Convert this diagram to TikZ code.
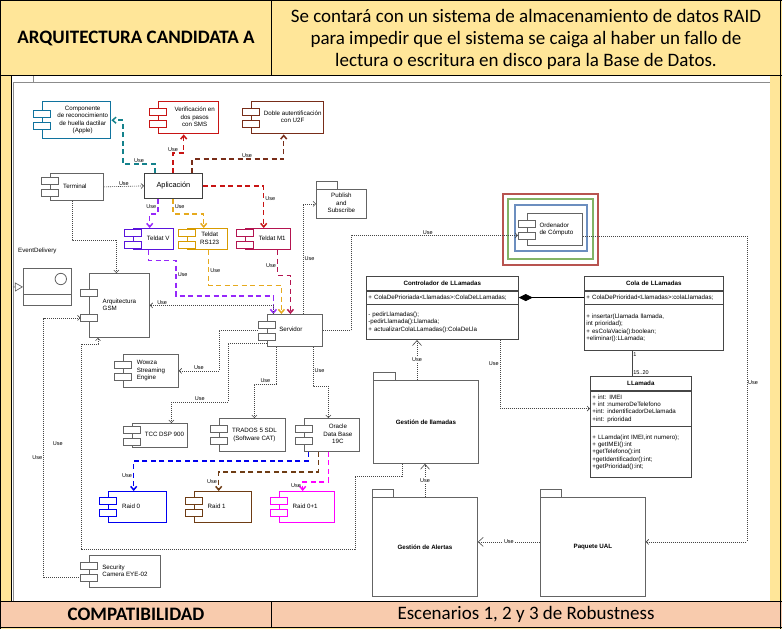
\documentclass[tikz,border=0pt]{standalone}
\usepackage{fontspec}
\setmainfont{Carlito}
\newfontfamily\dgfont{Liberation Sans}
\usetikzlibrary{arrows.meta, positioning}
\definecolor{HdYellow}{RGB}{255,230,153}
\definecolor{HdPeach}{RGB}{248,203,173}
\definecolor{DgGray}{RGB}{100,100,100}
\definecolor{DgLine}{RGB}{70,70,70}
\definecolor{DgTeal}{RGB}{16,115,158}
\definecolor{DgTealLn}{RGB}{20,130,140}
\definecolor{DgRed}{RGB}{200,20,20}
\definecolor{DgBrown}{RGB}{120,45,25}
\definecolor{DgPurple}{RGB}{90,20,220}
\definecolor{DgViolet}{RGB}{150,40,250}
\definecolor{DgOrange}{RGB}{215,155,0}
\definecolor{DgOrangeLn}{RGB}{230,170,30}
\definecolor{DgCrimson}{RGB}{180,20,80}
\definecolor{DgBlue}{RGB}{0,0,240}
\definecolor{DgRaidBrown}{RGB}{110,60,20}
\definecolor{DgMagenta}{RGB}{255,0,255}
\definecolor{DgRedBox}{RGB}{184,84,80}
\definecolor{DgGreenBox}{RGB}{130,179,102}
\definecolor{DgBlueBox}{RGB}{108,142,191}

% two plug rectangles on the left edge of a component
\newcommand{\plugs}[3][6]{%
  \foreach \dy in {#1,-#1}{%
    \draw[#3] ([shift={(-8.5pt,{(\dy+3.5)*1pt})}]#2.west) rectangle ++(17pt,-7pt);}}
% tab of a package
\newcommand{\pkgtab}[2][21]{\draw[pkgline] (#2.north west) rectangle ++(#1pt,8pt);}
% text block, pushed sideways
\newcommand{\ctxt}[3][c]{\hspace*{#2}\begin{tabular}{@{}#1@{}}#3\end{tabular}}

\begin{document}
\begin{tikzpicture}[x=1pt, y=-1pt,
    comp/.style={draw=DgGray, line width=0.8pt, fill=white, anchor=north west,
                 inner sep=0pt, font=\dgfont\fontsize{6.2}{7.4}\selectfont},
    ccomp/.style={comp, draw=#1, line width=1.4pt},
    plug/.style={draw=DgGray, line width=0.7pt, fill=white},
    cplug/.style={draw=#1, line width=1.3pt, fill=white},
    pkg/.style={draw=DgGray, line width=0.8pt, fill=white, anchor=north west,
                inner sep=0pt, font=\dgfont\bfseries\fontsize{6.2}{7.4}\selectfont},
    pkgline/.style={draw=DgGray, line width=0.8pt, fill=white},
    clstitle/.style={draw=DgLine, fill=white, line width=0.7pt, inner xsep=2pt,
                     inner ysep=0pt, text width=#1, minimum height=14pt, align=center,
                     font=\dgfont\bfseries\fontsize{6.2}{7.4}\selectfont},
    clsbody/.style={draw=DgLine, fill=white, line width=0.7pt, inner xsep=2pt,
                    inner ysep=0pt, text width=#1, align=left,
                    font=\dgfont\fontsize{6.2}{7.4}\selectfont},
    dep/.style={draw=DgLine, line width=0.6pt, dash pattern=on 1pt off 1pt,
                -{Straight Barb[length=2.5pt,width=5pt]}},
    depbig/.style={dep, -{Straight Barb[length=5pt,width=9pt]}},
    cdep/.style={draw=#1, line width=1.5pt, dash pattern=on 5pt off 3.5pt,
                 -{Straight Barb[length=3.5pt,width=6pt]}},
    gen/.style={draw=DgGray, line width=0.7pt, -{Triangle[open,length=8pt,width=9pt]}},
    compo/.style={{Diamond[length=14pt,width=7pt]}-, draw=black, line width=0.7pt},
    lbl/.style={font=\dgfont\fontsize{5.5}{6.5}\selectfont, inner sep=1pt},
    hdtext/.style={font=\fontsize{19}{22}\selectfont, align=center}
  ]
  \useasboundingbox (0,0) rectangle (782,629);

  % table
  \fill[HdYellow] (0,0) rectangle (782,629);
  \fill[HdPeach] (0,601) rectangle (782,627);
  \fill[white] (11,76) rectangle (770,601);
  \draw[black, line width=1pt] (0,0.5) -- (782,0.5) (0.5,0) -- (0.5,629)
    (780.5,0) -- (780.5,629) (0,75.5) -- (782,75.5) (271,0) -- (271,75.5)
    (0,601) -- (782,601) (0,627) -- (782,627) (271,601) -- (271,627)
    (11,75.5) -- (11,601);
  \draw[black!45, line width=0.5pt] (13,601) |- (770,82) (33,76) -- (33,82);

  \node[hdtext, font=\bfseries\fontsize{19}{22}\selectfont] (arq) at (136,38)
       {ARQUITECTURA CANDIDATA A};
  \node[hdtext] (raidtxt) at (526,39)
       {Se contará con un sistema de almacenamiento de datos RAID\\
        para impedir que el sistema se caiga al haber un fallo de\\
        lectura o escritura en disco para la Base de Datos.};
  \node[hdtext, font=\bfseries\fontsize{19}{22}\selectfont] (compat) at (136,614)
       {COMPATIBILIDAD};
  \node[hdtext] (esc) at (526,614) {Escenarios 1, 2 y 3 de Robustness};

  % Ordenador frames
  \draw[DgRedBox, line width=1.6pt] (503,194) rectangle (598,265);
  \draw[DgGreenBox, line width=1.6pt] (508,199) rectangle (593,259);
  \draw[DgBlueBox, line width=1.4pt] (515,205) rectangle (587,251);

  % components
  \node[ccomp=DgTeal, minimum width=68pt, minimum height=37pt] (comp) at (42,101)
       {\ctxt{12pt}{Componente\\de reconocimiento\\de huella dactilar\\(Apple)}};
  \node[ccomp=DgRed, minimum width=60pt, minimum height=32pt] (sms) at (158,101)
       {\ctxt{12pt}{Verificación en\\dos pasos\\con SMS}};
  \node[ccomp=DgBrown, minimum width=72pt, minimum height=32pt] (u2f) at (251,101)
       {\ctxt{10pt}{Doble autentificación\\con U2F}};
  \node[comp, minimum width=53pt, minimum height=27pt] (term) at (50,173)
       {\ctxt{-4pt}{Terminal}};
  \node[comp, draw=black!75, font=\dgfont\fontsize{7.4}{8.6}\selectfont,
        minimum width=58pt, minimum height=25pt] (app) at (144,173) {Aplicación};
  \node[ccomp=DgPurple, minimum width=40pt, minimum height=21pt] (tv) at (133,228)
       {\ctxt{9pt}{Teldat V}};
  \node[ccomp=DgOrange, minimum width=40pt, minimum height=21pt] (trs) at (187,228)
       {\ctxt{4pt}{Teldat\\RS123}};
  \node[ccomp=DgCrimson, minimum width=45pt, minimum height=21pt] (tm1) at (245,228)
       {\ctxt{8pt}{Teldat M1}};
  \node[pkg, font=\dgfont\fontsize{6.2}{7.4}\selectfont, minimum width=50pt,
        minimum height=29pt] (pubsub) at (316,189) {\ctxt{0pt}{Publish\\and\\Subscribe}};
  \pkgtab{pubsub}

  % EventDelivery
  \node[lbl, anchor=west, font=\dgfont\fontsize{6.2}{7.4}\selectfont] (evdlbl) at (17,251)
       {EventDelivery};
  \node[comp, minimum width=48pt, minimum height=37pt] (evd) at (23,268) {};
  \draw[DgGray, line width=0.8pt] ([yshift=11pt]evd.south west) -- ([yshift=11pt]evd.south east);
  \draw[DgGray, line width=0.8pt] ([shift={(-11pt,-11pt)}]evd.north east) circle (5.7pt);
  \coordinate (evdsrc) at (13,287);

  \node[comp, minimum width=60pt, minimum height=64pt] (gsm) at (89,273)
       {\ctxt[l]{0pt}{Arquitectura\\GSM}};
  \node[comp, minimum width=55pt, minimum height=32pt] (srv) at (267,314)
       {\ctxt{-8pt}{Servidor}};
  \node[comp, minimum width=55pt, minimum height=33pt] (wowza) at (123,354)
       {\ctxt[l]{0pt}{Wowza\\Streaming\\Engine}};
  \node[comp, minimum width=55pt, minimum height=24pt] (tcc) at (132,423)
       {\ctxt{9pt}{TCC DSP 900}};
  \node[comp, minimum width=66pt, minimum height=33pt] (trados) at (219,418)
       {\ctxt{4pt}{TRADOS 5 SDL\\(Software CAT)}};
  \node[comp, minimum width=55pt, minimum height=33pt] (oracle) at (304,418)
       {\ctxt{12pt}{Oracle\\Data Base\\19C}};
  \node[ccomp=DgBlue, minimum width=58pt, minimum height=31pt] (raid0) at (108,491)
       {\ctxt{-13pt}{Raid 0}};
  \node[ccomp=DgRaidBrown, minimum width=57pt, minimum height=31pt] (raid1) at (194,491)
       {\ctxt{-13pt}{Raid 1}};
  \node[ccomp=DgMagenta, minimum width=55pt, minimum height=31pt] (raid01) at (279,491)
       {\ctxt{-4pt}{Raid 0+1}};
  \node[comp, minimum width=71pt, minimum height=32pt] (cam) at (89,555)
       {\ctxt[l]{0pt}{Security\\Camera EYE-02}};
  \node[comp, minimum width=55pt, minimum height=32pt] (ord) at (527,213)
       {\ctxt[l]{3pt}{Ordenador\\de Cómputo}};

  % packages
  \node[pkg, minimum width=105pt, minimum height=83pt] (gll) at (373,380) {Gestión de llamadas};
  \pkgtab[22]{gll}
  \node[pkg, minimum width=105pt, minimum height=99pt] (gal) at (372,497) {Gestión de Alertas};
  \pkgtab{gal}
  \node[pkg, minimum width=105pt, minimum height=99pt] (ual) at (540,497) {Paquete UAL};
  \pkgtab{ual}

  % classes
  \node[clstitle=148pt, anchor=north west] (ctl) at (366,276) {Controlador de LLamadas};
  \node[clsbody=148pt, minimum height=13pt, below=0pt of ctl] (ctla)
       {+ ColaDePrioriada<Llamadas>:ColaDeLLamadas;};
  \node[clsbody=148pt, minimum height=35pt, below=0pt of ctla] (ctlm)
       {- pedirLlamadas();\\-pedirLlamada():Llamada;\\+ actualizarColaLLamadas():ColaDeLla};
  \node[clstitle=135pt, anchor=north west] (col) at (584,276) {Cola de LLamadas};
  \node[clsbody=135pt, minimum height=13pt, below=0pt of col] (cola)
       {+ ColaDePrioridad<Llamadas>:colaLlamadas;};
  \node[clsbody=135pt, minimum height=46pt, below=0pt of cola] (colm)
       {+ insertar(Llamada llamada,\\int prioridad);\\+ esColaVacia():boolean;\\+eliminar():LLamada;};
  \node[clstitle=97pt, anchor=north west] (llm) at (590,376) {LLamada};
  \node[clsbody=97pt, minimum height=35pt, below=0pt of llm] (llma)
       {+ int: IMEI\\+ int :numeroDeTelefono\\+int: indentificadorDeLlamada\\+int: prioridad};
  \node[clsbody=97pt, minimum height=51pt, below=0pt of llma] (llmm)
       {+ LLamda(int IMEI,int numero);\\+ getIMEI():int\\+getTelefono():int\\+getIdentificador():int;\\+getPrioridad():int;};

  \draw[compo] (ctla.east) -- (cola.west);
  \draw[draw=DgLine, line width=0.7pt] ([xshift=48pt]colm.south west)
       -- ([xshift=48pt]colm.south west |- llm.north)
       node[lbl, pos=0, anchor=north west] {1}
       node[lbl, pos=1, anchor=south west] {15..20};

  % Aplicacion uses
  \draw[cdep=DgTealLn] ([xshift=11pt]app.north west) |- (123,164)
       node[lbl, pos=0.75, above] {Use} |- (comp.east);
  \draw[cdep=DgRed] ([xshift=29pt]app.north west) -- ++(0,-20)
       node[lbl, pos=1, above] {Use} -| ([xshift=-5pt]sms.south);
  \draw[cdep=DgBrown] ([xshift=48pt]app.north west) -- ++(0,-14)
       -| ([xshift=-4pt]u2f.south) node[lbl, pos=0.3, above] {Use};
  \draw[cdep=DgRed] (app.east) -| ([xshift=-4.5pt]tm1.north)
       node[lbl, pos=0.65, right] {Use};
  \draw[cdep=DgViolet] ([xshift=14pt]app.south west) -- ++(0,15)
       node[lbl, pos=0.5, left] {Use} -| ([xshift=-4pt]tv.north);
  \draw[cdep=DgOrangeLn] ([xshift=29pt]app.south west) -- ++(0,15)
       node[lbl, pos=0.5, right] {Use} -| ([xshift=-4pt]trs.north);
  \draw[dep] (term.east) -- (app.west) node[lbl, midway, above] {Use};
  \draw[dep] ([xshift=22pt]term.south west) -- ++(0,39) -| ([xshift=-3pt]gsm.north);

  % Teldat to Servidor
  \draw[cdep=DgViolet] ([xshift=-5pt]tv.south) -- ++(0,10) -| (176,296)
       node[lbl, pos=0.7, right] {Use} -| ([xshift=-21.5pt]srv.north);
  \draw[cdep=DgOrangeLn] ([xshift=1pt]trs.south) -- ++(0,35)
       node[lbl, pos=0.57, right] {Use} -| ([xshift=-13.5pt]srv.north);
  \draw[cdep=DgCrimson] ([xshift=9.5pt]tm1.south) -- ++(0,25)
       node[lbl, pos=0.6, left] {Use} -| ([xshift=-4.5pt]srv.north);

  % Servidor uses
  \draw[dep] ([xshift=-21.5pt]srv.north) |- (gsm.east) node[lbl, pos=0.95, above] {Use};
  \draw[dep] ([xshift=-9pt]srv.west) -- ++(-39,0) |- (wowza.east)
       node[lbl, pos=0.75, above] {Use};
  \draw[dep] ([yshift=-13pt]srv.west) -| (228,402) -| ([xshift=11.5pt]tcc.north)
       node[lbl, pos=0.25, above] {Use};
  \draw[dep] ([xshift=-18.5pt]srv.south) -- ++(0,37) -| ([xshift=2pt]trados.north)
       node[lbl, pos=0.25, above] {Use};
  \draw[dep] ([xshift=18.5pt]srv.south) -- ++(0,39)
       node[lbl, pos=0.6, right] {Use} -| ([xshift=-3.5pt]oracle.north);
  \draw[dep] ([xshift=8.5pt]srv.north) |- (pubsub.west) node[lbl, pos=0.25, right] {Use};
  \draw[dep] (srv.east) -- ++(28,0) |- ([shift={(-9pt,-6pt)}]ord.west)
       node[lbl, pos=0.73, above] {Use};
  \draw[dep] ([yshift=-7pt]ord.east) -- ++(164,0) |- ([yshift=5pt]ual.east)
       node[lbl, pos=0.24, right] {Use};

  % Oracle to the RAIDs
  \draw[cdep=DgBlue] ([xshift=-23.5pt]oracle.south) -- ++(0,9)
       -| ([xshift=-4pt]raid0.north) node[lbl, pos=0.75, left] {Use};
  \draw[cdep=DgRaidBrown] ([xshift=-13.5pt]oracle.south) -- ++(0,20)
       -| ([xshift=-4.5pt]raid1.north) node[lbl, pos=0.75, left] {Use};
  \draw[cdep=DgMagenta] ([xshift=-3.5pt]oracle.south) -- ++(0,30)
       -| ([xshift=-4.5pt]raid01.north) node[lbl, pos=0.7, left] {Use};

  % left side
  \draw[gen] (evdsrc) -- (evd.west);
  \draw[dep] ([shift={(-8.5pt,-6pt)}]cam.west) -- ++(-37,0)
       |- ([shift={(-8.5pt,-12.5pt)}]gsm.west) node[lbl, pos=0.23, left] {Use};
  \draw[dep] ([xshift=29pt]gll.south west) |- (355,476) |- (81,549)
       |- (98,344) node[lbl, pos=0.256, left=17pt] {Use} -- ([xshift=9pt]gsm.south west);

  % packages and classes
  \draw[dep] ([xshift=134pt]ctlm.south west) |- (llma.west)
       node[lbl, pos=0.17, left] {Use};
  \draw[depbig] ([xshift=44pt]gll.north west) -- ([xshift=44pt]gll.north west |- ctlm.south)
       node[lbl, fill=white, pos=0.5] {Use};
  \draw[depbig] ([xshift=53pt]gal.north west) -- ([xshift=53pt]gal.north west |- gll.south)
       node[lbl, fill=white, pos=0.5] {Use};
  \draw[depbig] ([yshift=5pt]ual.west) -- ([yshift=5pt]gal.east)
       node[lbl, fill=white, pos=0.5] {Use};

  % plugs on top
  \plugs{comp}{cplug=DgTeal}
  \plugs{sms}{cplug=DgRed}
  \plugs{u2f}{cplug=DgBrown}
  \plugs{term}{plug}
  \plugs{tv}{cplug=DgPurple}
  \plugs{trs}{cplug=DgOrange}
  \plugs{tm1}{cplug=DgCrimson}
  \plugs[12.5]{gsm}{plug}
  \plugs{srv}{plug}
  \plugs{wowza}{plug}
  \plugs{tcc}{plug}
  \plugs{trados}{plug}
  \plugs{oracle}{plug}
  \plugs{raid0}{cplug=DgBlue}
  \plugs{raid1}{cplug=DgRaidBrown}
  \plugs{raid01}{cplug=DgMagenta}
  \plugs{cam}{plug}
  \plugs{ord}{plug}
\end{tikzpicture}
\end{document}
